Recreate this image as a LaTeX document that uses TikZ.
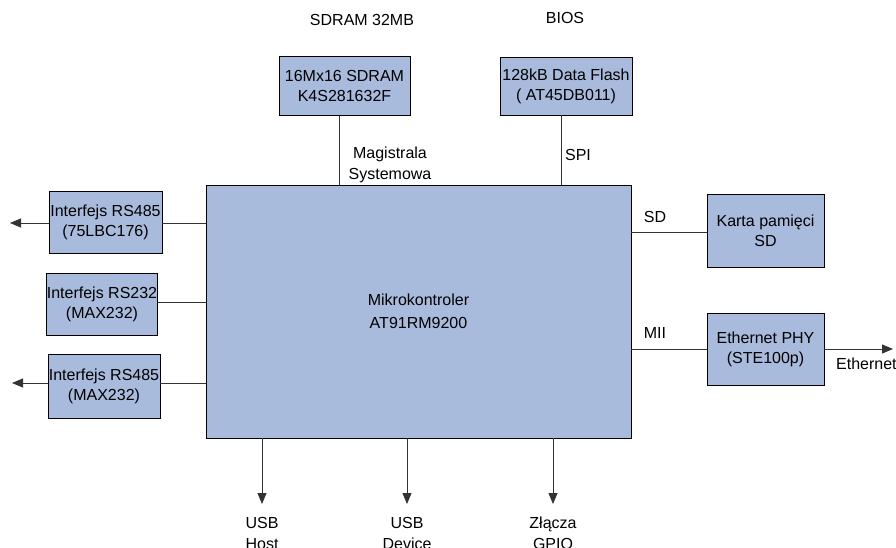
\documentclass[tikz,border=0pt]{standalone}
\usepackage{fontspec}
\setmainfont{Liberation Sans}
\usetikzlibrary{arrows.meta}
\definecolor{boxfill}{HTML}{A9BBDC}
\definecolor{linec}{HTML}{333333}
\begin{document}
\begin{tikzpicture}[x=1pt,y=-1pt,
  box/.style={draw=black, line width=0.8pt, fill=boxfill, align=center, inner sep=0pt, font=\fontsize{16}{20}\selectfont},
  conn/.style={draw=linec, line width=0.8pt},
  arr/.style={conn, -{Triangle[length=11pt,width=9pt]}},
  lbl/.style={align=center, inner sep=0pt, font=\fontsize{16}{21}\selectfont}]
\useasboundingbox (0,0) rectangle (896,548);
\node[box, minimum width=425pt, minimum height=253pt, font=\fontsize{16}{23}\selectfont] (mcu) at (418.5,311.5) {Mikrokontroler\\AT91RM9200};
\node[box, minimum width=131pt, minimum height=59pt] (sdram) at (344.5,86) {16Mx16 SDRAM\\K4S281632F};
\node[box, minimum width=132pt, minimum height=58pt] (flash) at (566,86) {128kB Data Flash\\( AT45DB011)};
\node[box, minimum width=113pt, minimum height=62pt] (rsa) at (105.5,222) {Interfejs RS485\\(75LBC176)};
\node[box, minimum width=108pt, minimum height=62pt] (rsb) at (102,304) {Interfejs RS232\\(MAX232)};
\node[box, minimum width=112pt, minimum height=64pt] (rsc) at (104,386) {Interfejs RS485\\(MAX232)};
\node[box, minimum width=117pt, minimum height=73pt] (sd) at (765.5,230.5) {Karta pamięci\\SD};
\node[box, minimum width=117pt, minimum height=72pt] (phy) at (765.5,349) {Ethernet PHY\\(STE100p)};

\node[lbl] (t1) at (362,20) {SDRAM 32MB};
\node[lbl] (t2) at (565,18) {BIOS};
\node[lbl] (t3) at (390,165) {Magistrala\\Systemowa};
\node[lbl] (t4) at (578,155) {SPI};
\node[lbl] (t5) at (655,217) {SD};
\node[lbl] (t6) at (655,333) {MII};
\node[lbl, anchor=west] (t7) at (836,364) {Ethernet};
\node[lbl] (t8) at (262,533) {USB\\Host};
\node[lbl] (t9) at (407,533) {USB\\Device};
\node[lbl] (t10) at (553,533) {Złącza\\GPIO};

\coordinate (xs) at (339,0);
\coordinate (xf) at (561,0);
\coordinate (ya) at (0,223);
\coordinate (yb) at (0,302);
\coordinate (yc) at (0,383);
\coordinate (ysd) at (0,232);
\coordinate (yphy) at (0,349);
\coordinate (la) at (10,223);
\coordinate (lc) at (12,383);
\coordinate (re) at (893,349);
\coordinate (u1) at (262,504);
\coordinate (u2) at (407,504);
\coordinate (u3) at (553,504);

\draw[conn] (sdram.south -| xs) -- (mcu.north -| xs);
\draw[conn] (flash.south -| xf) -- (mcu.north -| xf);
\draw[conn] (rsa.east |- ya) -- (mcu.west |- ya);
\draw[conn] (rsb.east |- yb) -- (mcu.west |- yb);
\draw[conn] (rsc.east |- yc) -- (mcu.west |- yc);
\draw[arr] (rsa.west |- ya) -- (la);
\draw[arr] (rsc.west |- yc) -- (lc);
\draw[conn] (mcu.east |- ysd) -- (sd.west |- ysd);
\draw[conn] (mcu.east |- yphy) -- (phy.west |- yphy);
\draw[arr] (phy.east |- yphy) -- (re);
\draw[arr] (mcu.south -| u1) -- (u1);
\draw[arr] (mcu.south -| u2) -- (u2);
\draw[arr] (mcu.south -| u3) -- (u3);
\end{tikzpicture}
\end{document}
